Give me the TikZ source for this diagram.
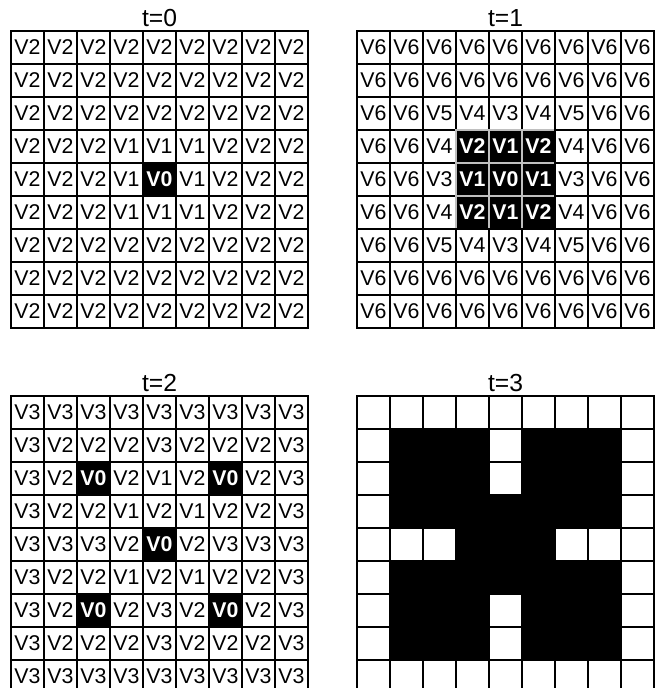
\documentclass[tikz,border=0pt]{standalone}
\usepackage{fontspec}
\setmainfont{Liberation Sans}
\usetikzlibrary{positioning}

\begin{document}
\begin{tikzpicture}[
  x=0.75pt, y=-0.75pt,
  cell/.style={draw, line width=1.3pt, minimum size=24.75pt, inner sep=0pt, font=\fontsize{16}{18}\selectfont},
  hot/.style={cell, fill=black, text=white, font=\bfseries\fontsize{16}{18}\selectfont},
  hotgray/.style={hot, draw=white!75!black, line width=1pt},
  solid/.style={cell, fill=black},
  title/.style={anchor=base, font=\fontsize{18.5}{20}\selectfont}
]
\useasboundingbox (0,0) rectangle (660,688);

% t=0
\foreach \row [count=\r] in {{2,2,2,2,2,2,2,2,2},{2,2,2,2,2,2,2,2,2},{2,2,2,2,2,2,2,2,2},
  {2,2,2,1,1,1,2,2,2},{2,2,2,1,0,1,2,2,2},{2,2,2,1,1,1,2,2,2},
  {2,2,2,2,2,2,2,2,2},{2,2,2,2,2,2,2,2,2},{2,2,2,2,2,2,2,2,2}}{
  \foreach \v [count=\c] in \row {
    \ifnum\v=0 \def\sty{hot}\else\def\sty{cell}\fi
    \node[\sty] (g0-\r-\c) at ({11+33*\c-16.5},{31+33*\r-16.5}) {V\v};
  }
}

% t=1
\foreach \row [count=\r] in {{6,6,6,6,6,6,6,6,6},{6,6,6,6,6,6,6,6,6},{6,6,5,4,3,4,5,6,6},
  {6,6,4,2,1,2,4,6,6},{6,6,3,1,0,1,3,6,6},{6,6,4,2,1,2,4,6,6},
  {6,6,5,4,3,4,5,6,6},{6,6,6,6,6,6,6,6,6},{6,6,6,6,6,6,6,6,6}}{
  \foreach \v [count=\c] in \row {
    \ifnum\v<3 \def\sty{hotgray}\else\def\sty{cell}\fi
    \node[\sty] (g1-\r-\c) at ({357+33*\c-16.5},{31+33*\r-16.5}) {V\v};
  }
}

% t=2
\foreach \row [count=\r] in {{3,3,3,3,3,3,3,3,3},{3,2,2,2,3,2,2,2,3},{3,2,0,2,1,2,0,2,3},
  {3,2,2,1,2,1,2,2,3},{3,3,3,2,0,2,3,3,3},{3,2,2,1,2,1,2,2,3},
  {3,2,0,2,3,2,0,2,3},{3,2,2,2,3,2,2,2,3},{3,3,3,3,3,3,3,3,3}}{
  \foreach \v [count=\c] in \row {
    \ifnum\v=0 \def\sty{hot}\else\def\sty{cell}\fi
    \node[\sty] (g2-\r-\c) at ({11+33*\c-16.5},{396+33*\r-16.5}) {V\v};
  }
}

% t=3
\foreach \row [count=\r] in {{0,0,0,0,0,0,0,0,0},{0,1,1,1,0,1,1,1,0},{0,1,1,1,0,1,1,1,0},
  {0,1,1,1,1,1,1,1,0},{0,0,0,1,1,1,0,0,0},{0,1,1,1,1,1,1,1,0},
  {0,1,1,1,0,1,1,1,0},{0,1,1,1,0,1,1,1,0},{0,0,0,0,0,0,0,0,0}}{
  \foreach \v [count=\c] in \row {
    \ifnum\v=1 \def\sty{solid}\else\def\sty{cell}\fi
    \node[\sty] (g3-\r-\c) at ({357+33*\c-16.5},{396+33*\r-16.5}) {};
  }
}

\node[title] (lbl0) at ([yshift=3pt]g0-1-5.north) {t=0};
\node[title] (lbl1) at ([yshift=3pt]g1-1-5.north) {t=1};
\node[title] (lbl2) at ([yshift=3pt]g2-1-5.north) {t=2};
\node[title] (lbl3) at ([yshift=3pt]g3-1-5.north) {t=3};
\end{tikzpicture}
\end{document}
